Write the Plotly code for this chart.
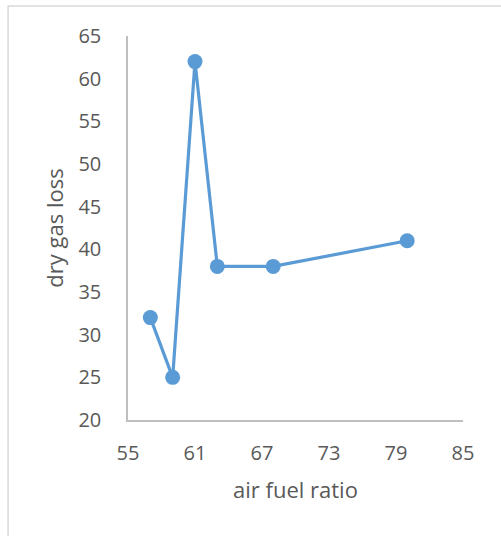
import plotly.graph_objects as go

air_fuel_ratio = [57, 59, 61, 63, 68, 80]
dry_gas_loss = [32, 25, 62, 38, 38, 41]
x_ticks = [55, 61, 67, 73, 79, 85]
y_ticks = [20, 25, 30, 35, 40, 45, 50, 55, 60, 65]

fig = go.Figure(go.Scatter(
    x=air_fuel_ratio, y=dry_gas_loss, mode="lines+markers",
    line=dict(color="#5B9BD5", width=3.2),
    marker=dict(color="#5B9BD5", size=15),
    cliponaxis=False,
))

font = dict(family="Open Sans, Liberation Sans, sans-serif", size=20, color="#595959")

fig.update_layout(
    width=501, height=536,
    margin=dict(l=128, r=38, t=36, b=116),
    paper_bgcolor="white", plot_bgcolor="white",
    font=font, showlegend=False,
    xaxis=dict(range=[55, 85], tickvals=x_ticks, showgrid=False, zeroline=False,
               showline=True, linecolor="#BFBFBF", linewidth=1.5, ticks="",
               ticklabelstandoff=14, tickfont=dict(size=20),
               title=dict(text="air fuel ratio", font=dict(size=22, color="#595959"), standoff=18)),
    yaxis=dict(range=[20, 65], tickvals=y_ticks, showgrid=False, zeroline=False,
               showline=True, linecolor="#BFBFBF", linewidth=1.5, ticks="",
               ticklabelstandoff=21, tickfont=dict(size=20),
               title=dict(text="dry gas loss", font=dict(size=22, color="#595959"), standoff=9)),
    shapes=[dict(type="rect", xref="paper", yref="paper",
                 x0=-0.358, x1=1.125, y0=-0.32, y1=1.078,
                 line=dict(color="#D9D9D9", width=1.5), fillcolor="rgba(0,0,0,0)", layer="below")],
)

fig.write_html("out.html")
